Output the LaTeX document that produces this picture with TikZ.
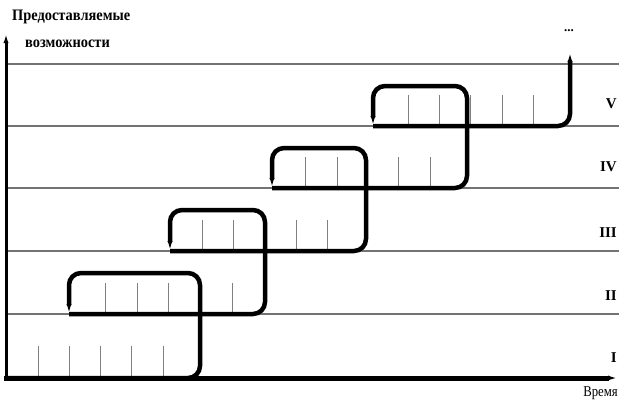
\documentclass[tikz,border=0pt]{standalone}
\usepackage{fontspec}
\setmainfont{Liberation Serif}
\usepackage{graphicx}
\usetikzlibrary{arrows.meta}
\newcommand{\narrowtext}[2][0.9]{\scalebox{#1}[1]{#2}}

\begin{document}
\begin{tikzpicture}[x=1pt, y=-1pt, >={Latex[length=10pt,width=5pt]},
  grid/.style={draw=black!55, line width=1.4pt},
  tickline/.style={draw=black!50, line width=0.8pt},
  flow/.style={draw=black, line width=4.5pt, rounded corners=12pt},
  axis/.style={draw=black, line width=5pt},
  lvl/.style={anchor=east, inner sep=0pt, font=\bfseries\fontsize{15}{15}\selectfont},
  ytitle/.style={anchor=west, inner sep=0pt, font=\bfseries\fontsize{16}{16}\selectfont}]
\useasboundingbox (0,0) rectangle (619,402);
% level lines
\foreach \y in {64,126,188,251,314}
  \draw[grid] (6,\y) -- (619,\y);
% ticks of every level
\foreach \x in {38,69,100,131,163} \draw[tickline] (\x,346) -- (\x,378);
\foreach \x in {105,137,168,200,232} \draw[tickline] (\x,283) -- (\x,314);
\foreach \x in {202,233,265,296,327} \draw[tickline] (\x,220) -- (\x,251);
\foreach \x in {305,337,367,398,430} \draw[tickline] (\x,157) -- (\x,188);
\foreach \x in {408,439,470,502,533} \draw[tickline] (\x,95) -- (\x,126);
% start of each level
\coordinate (s1) at (6,378);
\coordinate (s2) at (69,314);
\coordinate (s3) at (170,251);
\coordinate (s4) at (272,188);
\coordinate (s5) at (373,126);
\coordinate (up) at (570,52);
% axes
\draw[axis, ->] (4,378) -- (618,378) coordinate (xend);
\draw[draw=black, line width=3pt, ->] (6,380) -- (6,33) coordinate (yend);
% transitions
\draw[flow, ->] (s1) -- (200,378) -- (200,273) -- (69,273) -- (s2);
\draw[flow, ->] (s2) -- (265,314) -- (265,210) -- (170,210) -- (s3);
\draw[flow, ->] (s3) -- (366,251) -- (366,148) -- (272,148) -- (s4);
\draw[flow, ->] (s4) -- (467,188) -- (467,86) -- (373,86) -- (s5);
\draw[flow, ->] (s5) -- (570,126) -- (up);
% labels
\node[ytitle] (ycap) at (12,17) {\narrowtext{Предоставляемые}};
\node[ytitle] (ycap2) at (25,44) {\narrowtext{возможности}};
\node[font=\bfseries\fontsize{13}{13}\selectfont, inner sep=0pt] (more) at (569,31) {...};
\node[lvl] (lv5) at (617,104) {V};
\node[lvl] (lv4) at (617,167) {IV};
\node[lvl] (lv3) at (617,233) {III};
\node[lvl] (lv2) at (617,296) {II};
\node[lvl] (lv1) at (617,358) {I};
\node[anchor=east, inner sep=0pt, font=\fontsize{15}{15}\selectfont] (xcap) at (618,393) {\narrowtext[0.85]{Время}};
\end{tikzpicture}
\end{document}
